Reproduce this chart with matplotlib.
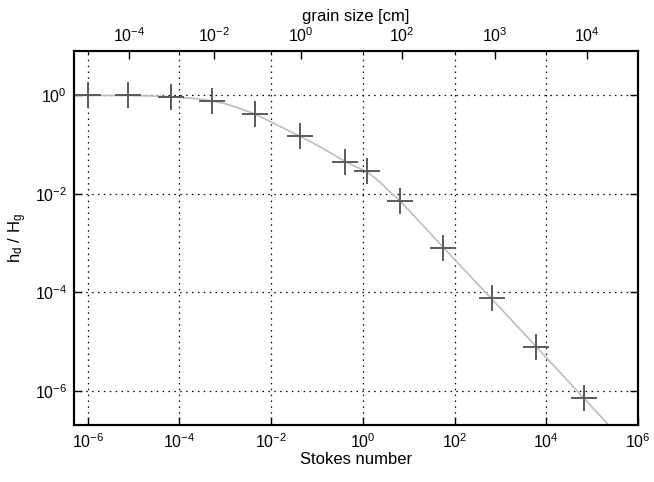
import numpy as np
import matplotlib
matplotlib.use('Agg')
import matplotlib.pyplot as plt
from matplotlib.ticker import FixedLocator, NullLocator, NullFormatter

plt.rcParams['font.family'] = ['Liberation Sans', 'DejaVu Sans']
plt.rcParams['mathtext.default'] = 'regular'

marker_log_st = [-6.0, -5.12, -4.19, -3.28, -2.36, -1.37, -0.39, 0.094, 0.81, 1.75, 2.81, 3.77, 4.82]
marker_log_h = [0.0, 0.0, -0.035, -0.116, -0.388, -0.83, -1.347, -1.545, -2.14, -3.10, -4.12, -5.10, -6.14]

# model curve (log10 values)
curve_log_st = [-6.3, -5.5, -5.0, -4.5, -4.0, -3.6, -3.3, -3.0, -2.7, -2.35, -2.0, -1.7, -1.37,
                -1.0, -0.7, -0.39, -0.15, 0.1, 0.37, 0.59, 0.81, 2.0, 3.0, 4.0, 5.35]
curve_log_h = [0.0, -0.002, -0.005, -0.015, -0.04, -0.07, -0.11, -0.17, -0.26, -0.38, -0.54, -0.68, -0.83,
               -1.01, -1.17, -1.34, -1.45, -1.55, -1.76, -1.96, -2.14, -3.33, -4.32, -5.32, -6.68]

# top axis: grain size labels and the Stokes number where they sit
grain_labels = ['$10^{-4}$', '$10^{-2}$', '$10^{0}$', '$10^{2}$', '$10^{3}$', '$10^{4}$']
grain_log_st = [-5.10, -3.25, -1.35, 0.845, 2.88, 4.89]

x_ticks = [1e-6, 1e-4, 1e-2, 1e0, 1e2, 1e4, 1e6]
x_labels = ['$10^{-6}$', '$10^{-4}$', '$10^{-2}$', '$10^{0}$', '$10^{2}$', '$10^{4}$', '$10^{6}$']
y_ticks = [1e-6, 1e-4, 1e-2, 1e0]
y_labels = ['$10^{-6}$', '$10^{-4}$', '$10^{-2}$', '$10^{0}$']

xlim = (10 ** -6.3, 1e6)
ylim = (10 ** -6.69, 10 ** 0.9)

fig = plt.figure(figsize=(6.54, 4.82), dpi=100)
ax = fig.add_axes([0.1131, 0.1183, 0.8624, 0.7759])

ax.plot(np.power(10.0, curve_log_st), np.power(10.0, curve_log_h),
        color='#bdbdbd', lw=1.2, zorder=2)
ax.plot(np.power(10.0, marker_log_st), np.power(10.0, marker_log_h),
        linestyle='none', marker='+', markersize=19, markeredgewidth=1.4,
        color='#5a5a5a', zorder=3)

ax.set_xscale('log')
ax.set_yscale('log')
ax.set_xlim(*xlim)
ax.set_ylim(*ylim)
ax.set_xticks(x_ticks, x_labels)
ax.set_yticks(y_ticks, y_labels)
ax.xaxis.set_minor_locator(NullLocator())
ax.yaxis.set_minor_locator(NullLocator())
ax.tick_params(which='major', direction='in', length=6, width=1.0,
               labelsize=11.5, top=False, right=True, pad=5)
ax.grid(True, which='major', linestyle=(0, (1.2, 3.5)), color='k', linewidth=0.9)
ax.set_xlabel('Stokes number', fontsize=12, labelpad=1)
ax.set_ylabel('$h_d$ / $H_g$', fontsize=12, labelpad=4)
for s in ax.spines.values():
    s.set_linewidth(1.5)

ax2 = ax.twiny()
ax2.set_xscale('log')
ax2.set_xlim(*xlim)
ax2.set_xticks(np.power(10.0, grain_log_st), grain_labels)
ax2.xaxis.set_minor_locator(FixedLocator(x_ticks))
ax2.xaxis.set_minor_formatter(NullFormatter())
ax2.tick_params(which='major', direction='in', length=6, width=1.0, labelsize=11.5, pad=4)
ax2.tick_params(which='minor', direction='in', length=2.5, width=0.8)
ax2.set_xlabel('grain size [cm]', fontsize=12, labelpad=4)
for s in ax2.spines.values():
    s.set_linewidth(1.5)

fig.savefig('out.png', dpi=100)
